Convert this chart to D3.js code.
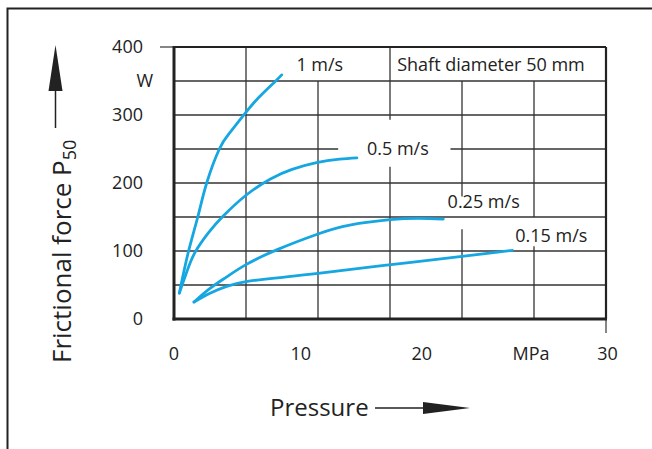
<!DOCTYPE html>
<html>
<head>
<meta charset="utf-8">
<script src="https://cdn.jsdelivr.net/npm/d3@7"></script>
<style>
  body { margin: 0; background: #fff; }
  svg { display: block; font-family: "Open Sans", "Noto Sans", sans-serif; }
</style>
</head>
<body>
<div class="friction"></div>
<script>
// curves: [pressure MPa, frictional force W]
const speed1 = [[0.37, 38], [0.99, 98], [1.65, 150], [2.27, 200], [3.15, 250], [3.84, 273], [4.81, 299], [5.85, 325], [7.01, 349], [7.48, 359]];
const speed05 = [[0.37, 38], [0.9, 70], [1.46, 98], [2.4, 127], [3.4, 151], [5.0, 182], [6.7, 206], [8.2, 220], [9.9, 230], [11.5, 235], [12.7, 237]];
const speed025 = [[1.39, 25], [2.5, 45], [3.66, 62], [5.0, 80], [7.17, 102], [10, 125], [12.2, 138], [15, 146], [17, 148], [18.7, 147]];
const speed015 = [[1.39, 25], [2.5, 38], [3.66, 48], [5.0, 55], [7.36, 61], [10, 67], [14.3, 78], [20, 92], [23.5, 101]];

const curveLabels = ["1 m/s", "0.5 m/s", "0.25 m/s", "0.15 m/s"];
const labelAt = [[8.5, 365], [13.4, 241], [19.0, 163], [23.7, 113]];

const xTickLabels = ["0", "10", "20", "MPa", "30"];
const xTickAt = [0, 8.8, 17.2, 24.8, 30.1];
const yTickLabels = ["400", "W", "300", "200", "100", "0"];
const yTickAt = [400, 350, 300, 200, 100, 0];

const xGrid = [5, 10, 15, 20, 25];
const yGrid = [50, 100, 150, 200, 250, 300, 350];
// pieces of grid left out where labels sit
const xGridGaps = { 10: [[350, 400]], 15: [[224, 293]], 20: [[132, 180], [350, 400]], 25: [[107, 150], [350, 400]] };
const yGridGaps = { 250: [[11.4, 19.2]] };

const note = "Shaft diameter 50 mm";

const width = 652;
const height = 449;
const blue = "#16a6e1";
const ink = "#222";

const x = d3.scaleLinear().domain([0, 30]).range([174, 606]);
const y = d3.scaleLinear().domain([0, 400]).range([319, 47]);

const svg = d3.select(".friction").append("svg")
    .attr("width", width)
    .attr("height", height);

// outer frame (top + left only)
svg.append("path")
    .attr("d", `M7.5,449 V8.5 H652`)
    .attr("fill", "none")
    .attr("stroke", ink)
    .attr("stroke-width", 2);

// split [lo, hi] around the gaps
function pieces(lo, hi, gaps) {
    const out = [];
    let start = lo;
    (gaps || []).forEach(g => {
        out.push([start, g[0]]);
        start = g[1];
    });
    out.push([start, hi]);
    return out.filter(p => p[1] > p[0]);
}

// grid
const grid = svg.append("g").attr("stroke", "#333").attr("stroke-width", 1.3);

xGrid.forEach(v => {
    pieces(0, 400, xGridGaps[v]).forEach(p => {
        grid.append("line")
            .attr("x1", x(v)).attr("x2", x(v))
            .attr("y1", y(p[0])).attr("y2", y(p[1]));
    });
});

yGrid.forEach(v => {
    pieces(0, 30, yGridGaps[v]).forEach(p => {
        grid.append("line")
            .attr("x1", x(p[0])).attr("x2", x(p[1]))
            .attr("y1", y(v)).attr("y2", y(v));
    });
});

// plot border
svg.append("line").attr("x1", x(0)).attr("x2", x(30)).attr("y1", y(400)).attr("y2", y(400))
    .attr("stroke", ink).attr("stroke-width", 2);
svg.append("line").attr("x1", x(0) - 14).attr("x2", x(0)).attr("y1", y(400)).attr("y2", y(400))
    .attr("stroke", "#444").attr("stroke-width", 1.3);
svg.append("line").attr("x1", x(30)).attr("x2", x(30)).attr("y1", y(400)).attr("y2", y(0))
    .attr("stroke", ink).attr("stroke-width", 2.2);
svg.append("line").attr("x1", x(30)).attr("x2", x(30)).attr("y1", y(0)).attr("y2", y(0) + 14)
    .attr("stroke", "#444").attr("stroke-width", 1.3);
svg.append("line").attr("x1", x(0)).attr("x2", x(0)).attr("y1", y(400) - 1).attr("y2", y(0) + 1.5)
    .attr("stroke", ink).attr("stroke-width", 3);
svg.append("line").attr("x1", x(0) - 1.5).attr("x2", x(30) + 1).attr("y1", y(0)).attr("y2", y(0))
    .attr("stroke", ink).attr("stroke-width", 3);

// curves
const line = d3.line()
    .x(d => x(d[0]))
    .y(d => y(d[1]))
    .curve(d3.curveNatural);

svg.selectAll(".curve")
    .data([speed1, speed05, speed025, speed015])
    .join("path")
    .attr("class", "curve")
    .attr("d", line)
    .attr("fill", "none")
    .attr("stroke", blue)
    .attr("stroke-width", 2.8)
    .attr("stroke-linecap", "round");

// curve labels
svg.selectAll(".clabel")
    .data(curveLabels)
    .join("text")
    .attr("class", "clabel")
    .attr("x", (d, i) => x(labelAt[i][0]))
    .attr("y", (d, i) => y(labelAt[i][1]))
    .attr("font-size", 18)
    .attr("fill", ink)
    .text(d => d);

svg.append("text")
    .attr("x", x(15.5))
    .attr("y", y(365))
    .attr("font-size", 18)
    .attr("fill", ink)
    .text(note);

// tick labels
svg.selectAll(".xt")
    .data(xTickLabels)
    .join("text")
    .attr("class", "xt")
    .attr("x", (d, i) => x(xTickAt[i]))
    .attr("y", 360)
    .attr("text-anchor", "middle")
    .attr("font-size", 18)
    .attr("fill", ink)
    .text(d => d);

svg.selectAll(".yt")
    .data(yTickLabels)
    .join("text")
    .attr("class", "yt")
    .attr("x", d => d === "W" ? 153 : 143)
    .attr("y", (d, i) => y(yTickAt[i]))
    .attr("dy", "0.35em")
    .attr("text-anchor", "end")
    .attr("font-size", 18)
    .attr("fill", ink)
    .text(d => d);

// axis titles with arrows
svg.append("text")
    .attr("x", 270)
    .attr("y", 416)
    .attr("font-size", 24)
    .attr("fill", ink)
    .text("Pressure");
svg.append("line").attr("x1", 375).attr("x2", 425).attr("y1", 408).attr("y2", 408)
    .attr("stroke", ink).attr("stroke-width", 1.5);
svg.append("path").attr("d", "M423,402 L470,408 L423,414 Z").attr("fill", ink);

const yt = svg.append("text")
    .attr("transform", "translate(71,363) rotate(-90)")
    .attr("font-size", 26)
    .attr("fill", ink);
yt.append("tspan").text("Frictional force P");
yt.append("tspan").attr("font-size", 18).attr("dy", 5).text("50");
svg.append("line").attr("x1", 55.5).attr("x2", 55.5).attr("y1", 128).attr("y2", 88)
    .attr("stroke", ink).attr("stroke-width", 1.5);
svg.append("path").attr("d", "M48.5,91 L55.5,45 L62.5,91 Z").attr("fill", ink);
</script>
</body>
</html>
